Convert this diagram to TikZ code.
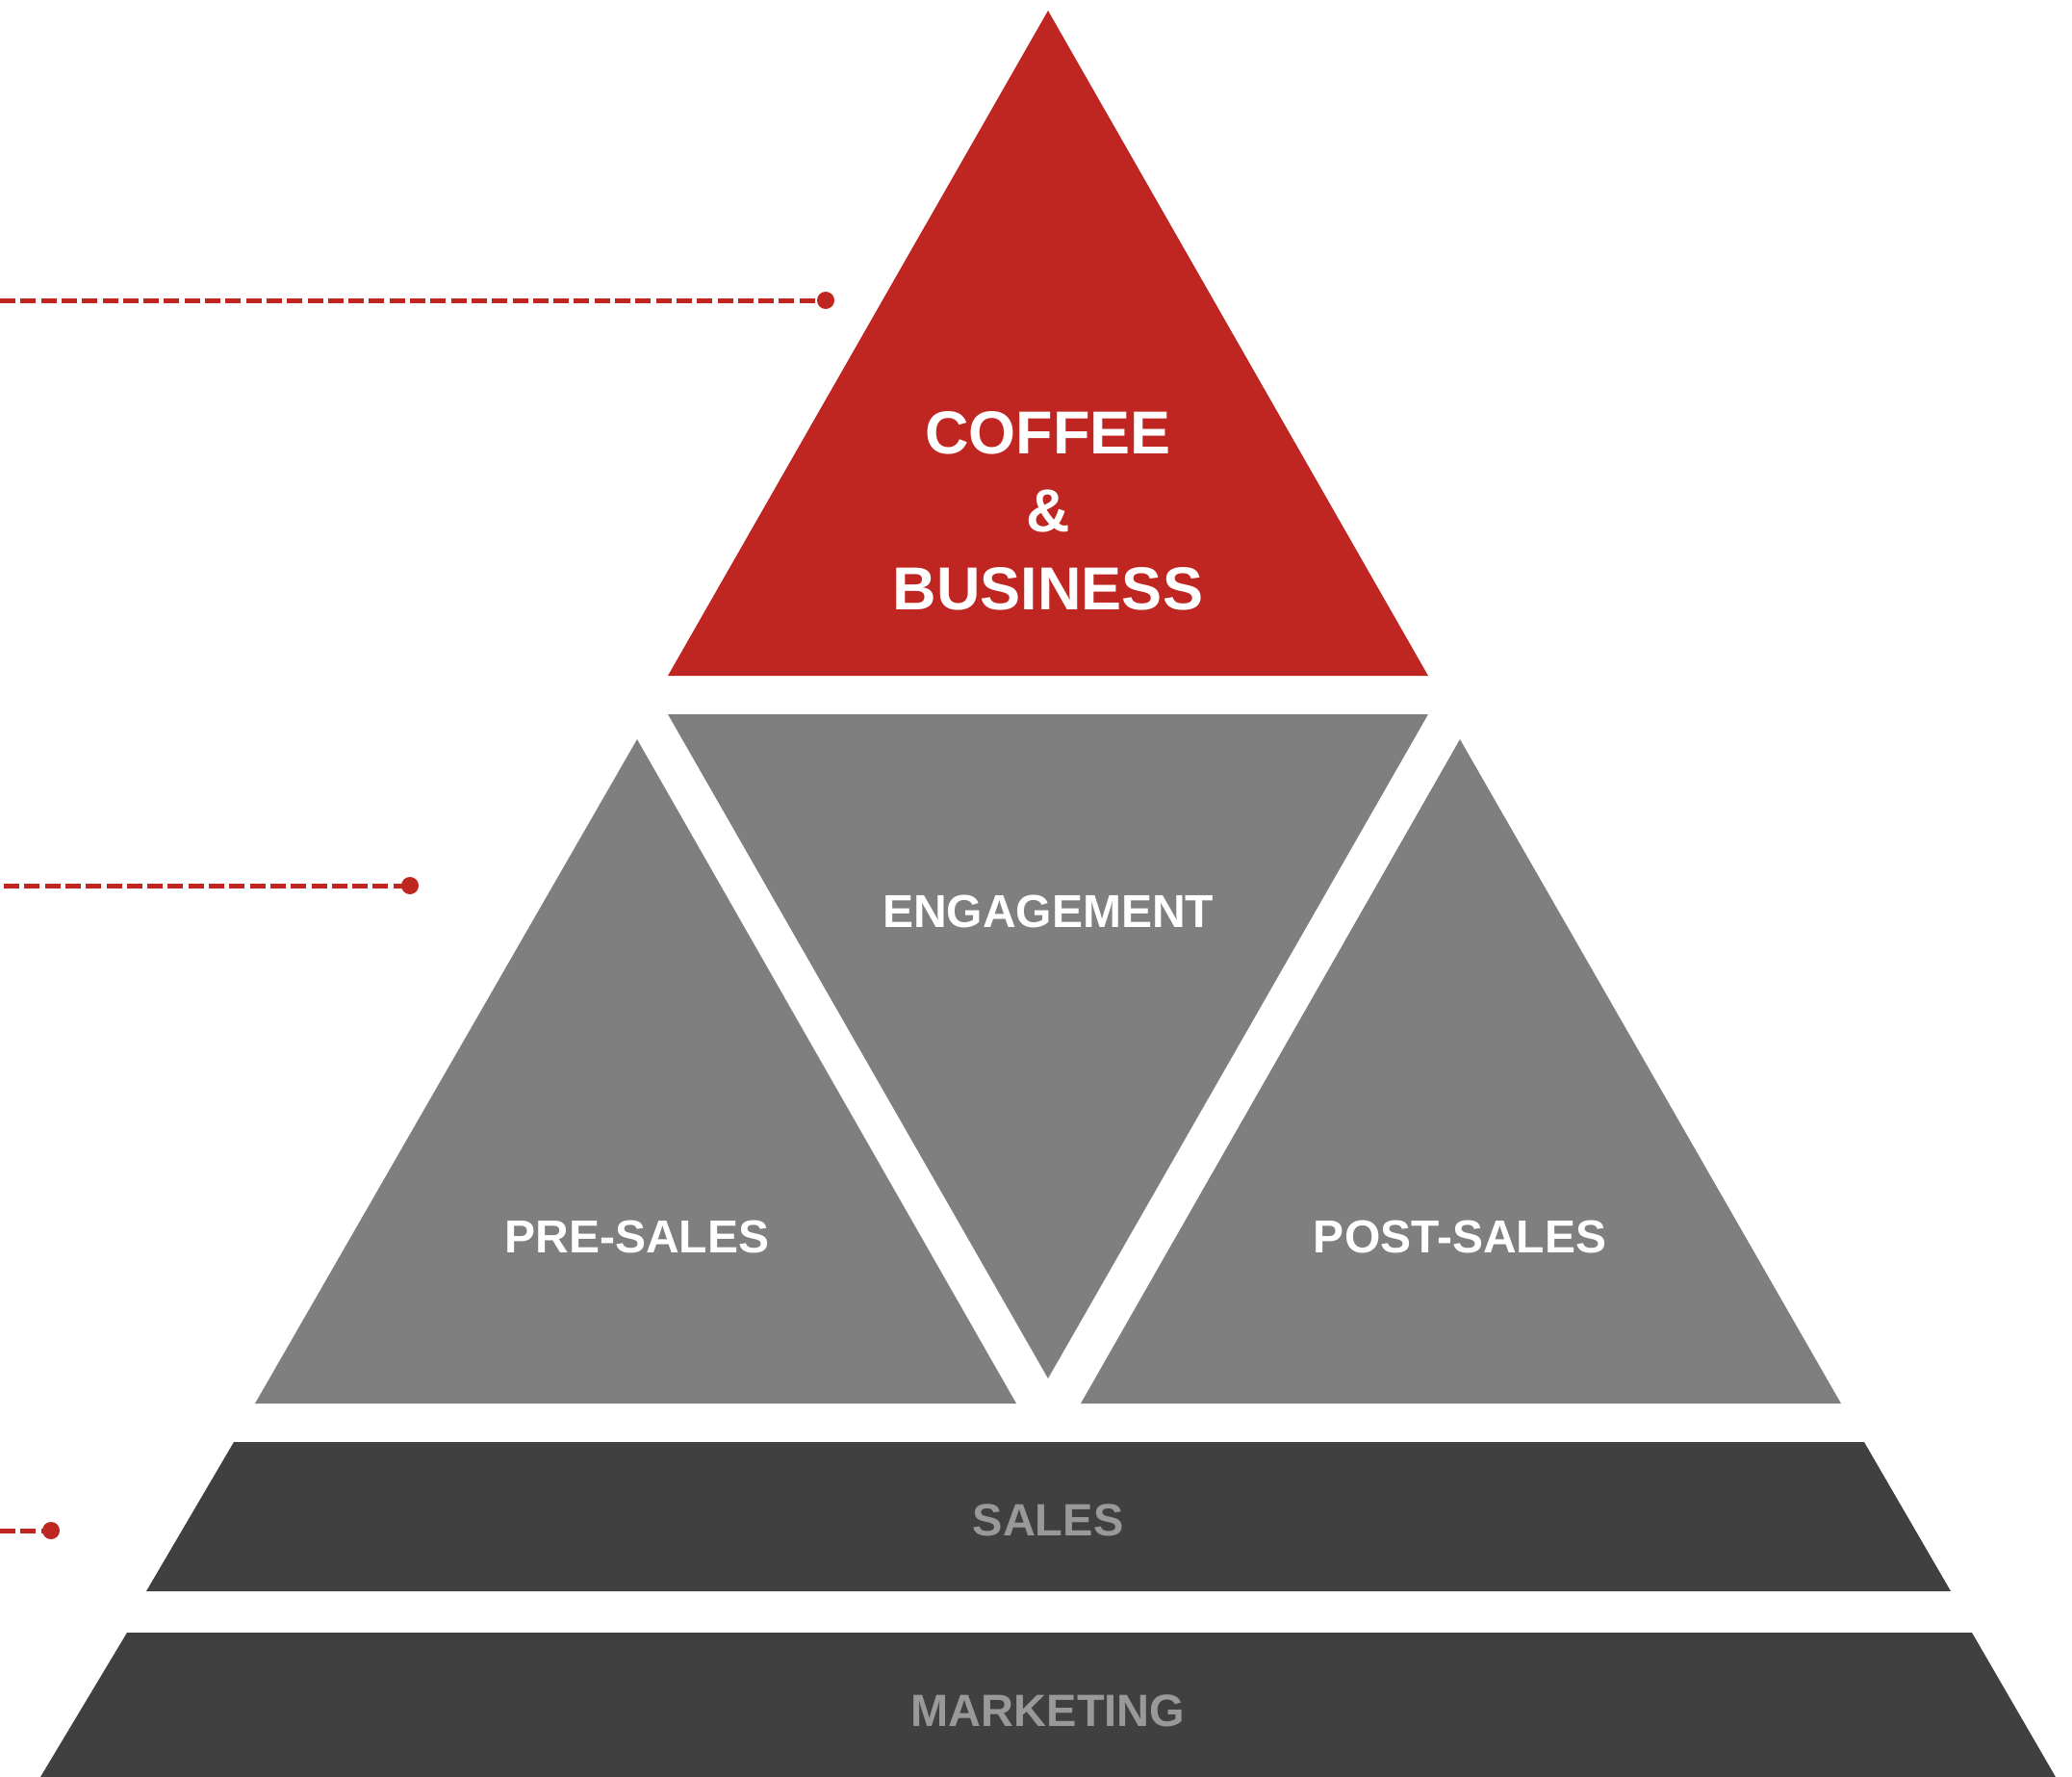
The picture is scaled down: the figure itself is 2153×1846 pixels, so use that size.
\documentclass[tikz,border=0pt]{standalone}
\usepackage{fontspec}
\setmainfont{Liberation Sans}
\usepackage{tikz}
\definecolor{coffeered}{HTML}{BF2621}
\definecolor{midgray}{HTML}{7F7F7F}
\definecolor{basegray}{HTML}{404040}
\definecolor{fadegray}{HTML}{999999}
\tikzstyle{leader} = [draw=coffeered, line width=5pt, dash pattern=on 16pt off 5.3pt]
\tikzstyle{tipdot} = [fill=coffeered]
\tikzstyle{tiertext} = [font=\fontsize{48}{56}\selectfont\bfseries, text=white]
\tikzstyle{basetext} = [font=\fontsize{47}{56}\selectfont\bfseries, text=fadegray]

\begin{document}
\begin{tikzpicture}[x=1pt,y=-1pt]
  \useasboundingbox (0,0) rectangle (2153,1846);

  % top triangle
  \fill[coffeered] (1089,11) -- (1484,702) -- (694,702) -- cycle;
  % middle row of triangles
  \fill[midgray] (694,742) -- (1484,742) -- (1089,1432) -- cycle;
  \fill[midgray] (662,768) -- (1056,1458) -- (265,1458) -- cycle;
  \fill[midgray] (1517,768) -- (1913,1458) -- (1123,1458) -- cycle;
  % base bands
  \fill[basegray] (243,1498) -- (1937,1498) -- (2027,1653) -- (152,1653) -- cycle;
  \fill[basegray] (132,1696) -- (2049,1696) -- (2136,1846) -- (42,1846) -- cycle;

  % texts
  \node[tiertext, align=center, font=\fontsize{63}{81}\selectfont\bfseries] (coffee) at (1089,531) {COFFEE\\\&\\BUSINESS};
  \node[tiertext] (engage) at (1089,947) {ENGAGEMENT};
  \node[tiertext] (presales) at (662,1285) {PRE-SALES};
  \node[tiertext] (postsales) at (1517,1285) {POST-SALES};
  \node[basetext] (sales) at (1089,1579) {SALES};
  \node[basetext] (marketing) at (1089,1777) {MARKETING};

  % leader lines
  \coordinate (topstart) at (0,312);
  \coordinate (topdot) at (858,312);
  \coordinate (midstart) at (4,920);
  \coordinate (middot) at (426,920);
  \coordinate (lowstart) at (0,1590);
  \coordinate (lowdot) at (53,1590);
  \draw[leader] (topstart) -- (topdot);
  \draw[leader] (midstart) -- (middot);
  \draw[leader] (lowstart) -- (lowdot);
  \fill[tipdot] (topdot) circle (9pt);
  \fill[tipdot] (middot) circle (9pt);
  \fill[tipdot] (lowdot) circle (9pt);
\end{tikzpicture}
\end{document}
